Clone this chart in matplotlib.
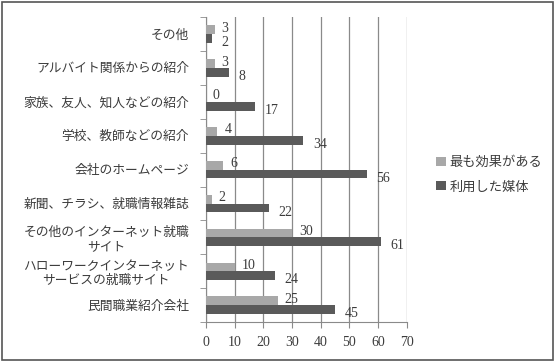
import matplotlib
matplotlib.use("Agg")
import matplotlib.pyplot as plt
import numpy as np
from matplotlib.patches import Rectangle

plt.rcParams['font.family'] = ['Liberation Serif', 'Noto Sans CJK JP', 'DejaVu Sans']

# 下から上の順
categories = [
    "民間職業紹介会社",
    "ハローワークインターネット\nサービスの就職サイト",
    "その他のインターネット就職\nサイト",
    "新聞、チラシ、就職情報雑誌",
    "会社のホームページ",
    "学校、教師などの紹介",
    "家族、友人、知人などの紹介",
    "アルバイト関係からの紹介",
    "その他",
]
most_effective = [25, 10, 30, 2, 6, 4, 0, 3, 3]
used_media = [45, 24, 61, 22, 56, 34, 17, 8, 2]
series_names = ["最も効果がある", "利用した媒体"]
xticks = [0, 10, 20, 30, 40, 50, 60, 70]

light = "#a8a8a8"
dark = "#5a5a5a"
text_col = "#3c3c3c"
grid_col = "#8a8a8a"

fig = plt.figure(figsize=(5.55, 3.62), dpi=100)
ax = fig.add_axes([0.371, 0.110, 0.362, 0.843])

y = np.arange(len(categories))
h = 0.26
b1 = ax.barh(y + h / 2, most_effective, height=h, color=light, label=series_names[0], zorder=3)
b2 = ax.barh(y - h / 2, used_media, height=h, color=dark, label=series_names[1], zorder=3)

for yy, v in zip(y, most_effective):
    ax.annotate(str(v), (v, yy + h / 2), xytext=(5, 1), textcoords="offset points",
                ha="left", va="center", fontsize=10, color=text_col, zorder=4)
for yy, v in zip(y, used_media):
    ax.annotate(str(v), (v, yy - h / 2), xytext=(7, -3), textcoords="offset points",
                ha="left", va="center", fontsize=10, color=text_col, zorder=4)

ax.set_xlim(0, 70)
ax.set_ylim(-0.5, len(categories) - 0.5)
ax.set_xticks(xticks)
ax.set_yticks(y)
ax.set_yticklabels(categories, multialignment="center")
ax.set_yticks(np.arange(-0.5, len(categories)), minor=True)
ax.tick_params(axis="y", which="major", length=0, pad=12, labelsize=9.2, labelcolor=text_col)
ax.tick_params(axis="y", which="minor", length=4, color=grid_col, direction="out")
ax.tick_params(axis="x", length=4, color=grid_col, labelsize=10, labelcolor=text_col, pad=6)

ax.grid(axis="x", color=grid_col, linewidth=0.9, zorder=0)
for s in ["top", "right"]:
    ax.spines[s].set_visible(False)
for s in ["left", "bottom"]:
    ax.spines[s].set_color(grid_col)

fig.legend(handles=[b1, b2], labels=series_names, loc="upper left",
           bbox_to_anchor=(0.765, 0.60), frameon=False, fontsize=9.5,
           handlelength=0.7, handleheight=0.7, handletextpad=0.3,
           labelspacing=0.9, labelcolor=text_col)

fig.patches.append(Rectangle((0.004, 0.006), 0.992, 0.988, transform=fig.transFigure,
                             fill=False, edgecolor="#555555", linewidth=1.2))

fig.savefig("out.png", dpi=100)
